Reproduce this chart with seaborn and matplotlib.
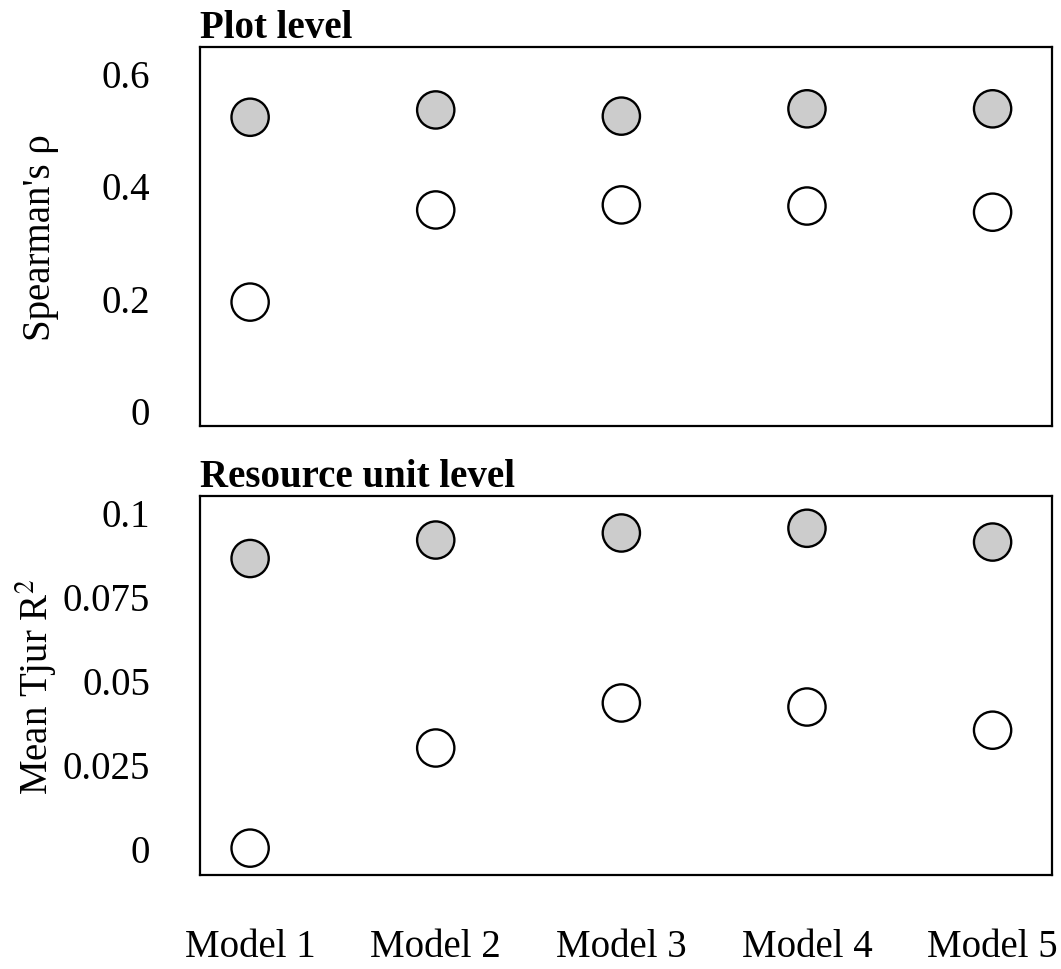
import pandas as pd
import matplotlib.pyplot as plt
import seaborn as sns

# data
models = ["Model 1", "Model 2", "Model 3", "Model 4", "Model 5"]
plot_grey = [0.521, 0.534, 0.523, 0.536, 0.536]
plot_white = [0.192, 0.356, 0.365, 0.363, 0.352]
ru_grey = [0.0862, 0.0917, 0.0938, 0.0952, 0.0911]
ru_white = [0.0, 0.0298, 0.0432, 0.0420, 0.0351]

plot_ticks = [0, 0.2, 0.4, 0.6]
plot_ticklabels = ["0", "0.2", "0.4", "0.6"]
ru_ticks = [0, 0.025, 0.05, 0.075, 0.1]
ru_ticklabels = ["0", "0.025", "0.05", "0.075", "0.1"]

sns.set_style("white", {"text.color": "black", "axes.labelcolor": "black",
                        "xtick.color": "black", "ytick.color": "black",
                        "axes.edgecolor": "black"})
plt.rcParams["font.family"] = ["Liberation Serif", "DejaVu Serif"]
plt.rcParams["mathtext.fontset"] = "stix"

def long_form(grey, white):
    df = pd.DataFrame({"model": models * 2,
                       "value": grey + white,
                       "group": ["grey"] * len(grey) + ["white"] * len(white)})
    df["x"] = df["model"].map({m: i for i, m in enumerate(models)})
    return df

fig = plt.figure(figsize=(10.61, 9.70), dpi=100)
ax1 = fig.add_axes([0.1885, 0.5598, 0.803, 0.3907])
ax2 = fig.add_axes([0.1885, 0.0969, 0.803, 0.3907])

palette = {"grey": "#cccccc", "white": "white"}

panels = [
    (ax1, long_form(plot_grey, plot_white), "Plot level", "Spearman's ρ",
     (-0.0285, 0.646), plot_ticks, plot_ticklabels),
    (ax2, long_form(ru_grey, ru_white), "Resource unit level", "Mean Tjur R$^2$",
     (-0.008, 0.1048), ru_ticks, ru_ticklabels),
]

for ax, df, title, ylab, ylim, ticks, labels in panels:
    sns.scatterplot(data=df, x="x", y="value", hue="group", palette=palette,
                    s=720, edgecolor="black", linewidth=1.7, legend=False,
                    ax=ax, zorder=3)
    ax.set_xlim(-0.27, 4.32)
    ax.set_ylim(*ylim)
    ax.set_yticks(ticks)
    ax.set_yticklabels(labels)
    ax.set_ylabel(ylab, fontsize=28)
    ax.yaxis.set_label_coords(-0.165, 0.5)
    ax.set_xlabel("")
    ax.set_title(title, loc="left", fontsize=28, fontweight="bold", pad=7)
    ax.tick_params(axis="both", length=0, labelsize=28)
    ax.tick_params(axis="y", pad=36)
    for sp in ax.spines.values():
        sp.set_linewidth(1.6)
        sp.set_color("black")

ax1.set_xticks([])
ax2.set_xticks(range(len(models)))
ax2.set_xticklabels(models)
ax2.tick_params(axis="x", pad=38)

fig.savefig("out.png", dpi=100)
